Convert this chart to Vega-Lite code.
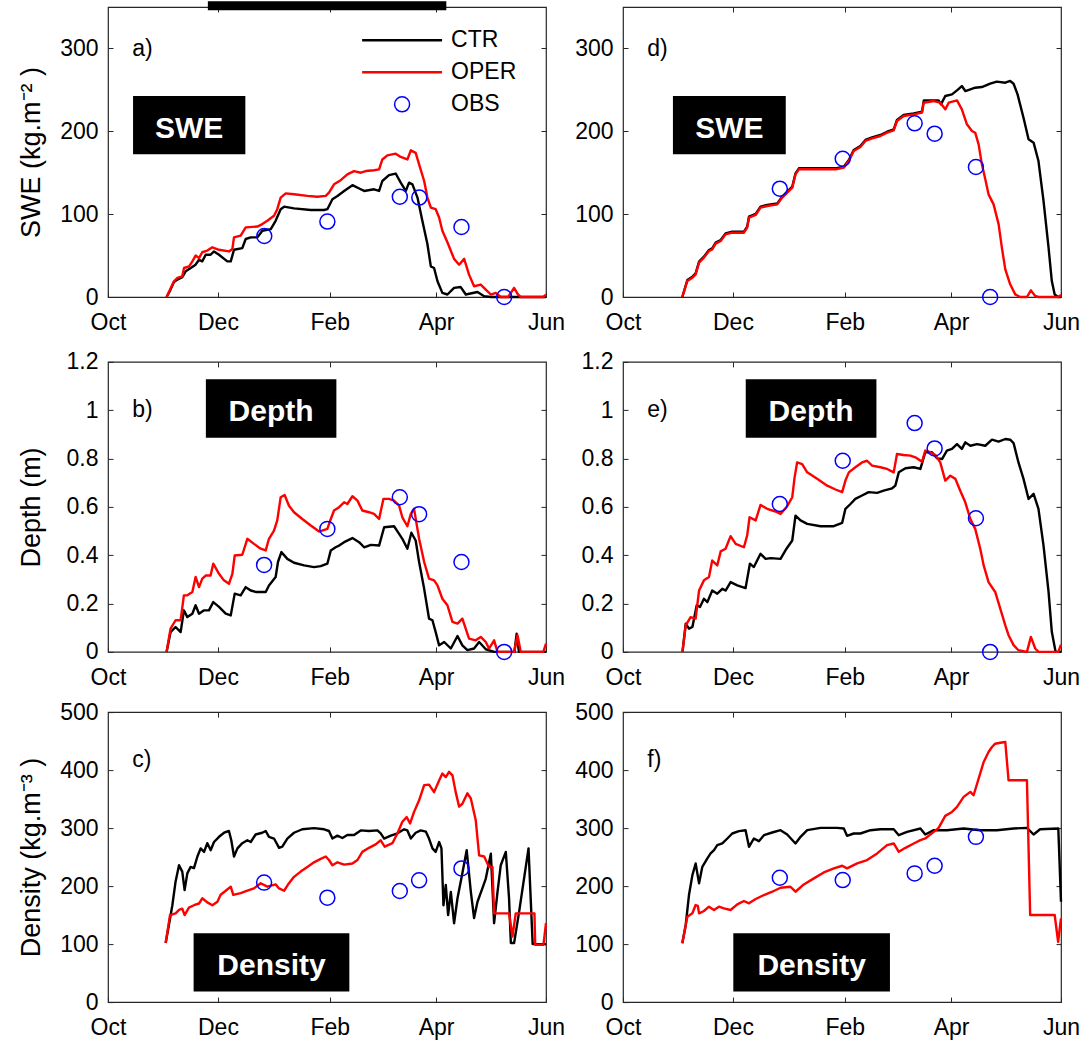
{
"$schema": "https://vega.github.io/schema/vega-lite/v6.json",
"padding": {"left": 17, "top": 0, "right": 0, "bottom": 0},
"datasets": {
"a": [
{"series":"CTR","day":32.5,"value":0},{"series":"CTR","day":34.5,"value":8},{"series":"CTR","day":36.6,"value":18},{"series":"CTR","day":38.5,"value":21},{"series":"CTR","day":41.2,"value":24},{"series":"CTR","day":43.1,"value":31},{"series":"CTR","day":45.9,"value":35},{"series":"CTR","day":48.6,"value":39},{"series":"CTR","day":50.5,"value":45},{"series":"CTR","day":52.3,"value":43},{"series":"CTR","day":54.2,"value":51},{"series":"CTR","day":56.9,"value":51},{"series":"CTR","day":58.8,"value":55},{"series":"CTR","day":61.6,"value":51},{"series":"CTR","day":66.2,"value":43},{"series":"CTR","day":68.1,"value":43},{"series":"CTR","day":69.9,"value":57},{"series":"CTR","day":74.5,"value":59},{"series":"CTR","day":76.4,"value":70},{"series":"CTR","day":79.2,"value":72},{"series":"CTR","day":82.9,"value":72},{"series":"CTR","day":85.6,"value":80},{"series":"CTR","day":90.3,"value":82},{"series":"CTR","day":93,"value":92},{"series":"CTR","day":95.8,"value":106},{"series":"CTR","day":97.7,"value":109},{"series":"CTR","day":103.2,"value":107},{"series":"CTR","day":112.5,"value":105},{"series":"CTR","day":119.9,"value":105},{"series":"CTR","day":121.7,"value":106},{"series":"CTR","day":124.5,"value":118},{"series":"CTR","day":127.3,"value":122},{"series":"CTR","day":131,"value":128},{"series":"CTR","day":135.6,"value":135},{"series":"CTR","day":140.2,"value":130},{"series":"CTR","day":142.1,"value":128},{"series":"CTR","day":147.6,"value":130},{"series":"CTR","day":150.4,"value":128},{"series":"CTR","day":152.2,"value":140},{"series":"CTR","day":155.9,"value":147},{"series":"CTR","day":159.6,"value":149},{"series":"CTR","day":162.4,"value":138},{"series":"CTR","day":165.2,"value":128},{"series":"CTR","day":167,"value":138},{"series":"CTR","day":168.9,"value":136},{"series":"CTR","day":171.7,"value":120},{"series":"CTR","day":174.4,"value":92},{"series":"CTR","day":177.2,"value":64},{"series":"CTR","day":179.1,"value":37},{"series":"CTR","day":180.9,"value":35},{"series":"CTR","day":182.8,"value":19},{"series":"CTR","day":185.5,"value":5},{"series":"CTR","day":188.3,"value":3},{"series":"CTR","day":192,"value":11},{"series":"CTR","day":195.7,"value":12},{"series":"CTR","day":198.5,"value":3},{"series":"CTR","day":205,"value":6},{"series":"CTR","day":208.7,"value":1},{"series":"CTR","day":212.4,"value":0},{"series":"CTR","day":243,"value":0},
{"series":"OPER","day":32.5,"value":0},{"series":"OPER","day":36.6,"value":19},{"series":"OPER","day":38.5,"value":23},{"series":"OPER","day":41.2,"value":25},{"series":"OPER","day":42.2,"value":35},{"series":"OPER","day":45,"value":37},{"series":"OPER","day":46.8,"value":43},{"series":"OPER","day":48.6,"value":50},{"series":"OPER","day":50.5,"value":47},{"series":"OPER","day":52.3,"value":54},{"series":"OPER","day":55.1,"value":56},{"series":"OPER","day":57.9,"value":60},{"series":"OPER","day":61.6,"value":57},{"series":"OPER","day":67.1,"value":55},{"series":"OPER","day":69,"value":58},{"series":"OPER","day":69.9,"value":72},{"series":"OPER","day":73.6,"value":74},{"series":"OPER","day":76.4,"value":84},{"series":"OPER","day":82.9,"value":85},{"series":"OPER","day":85.6,"value":88},{"series":"OPER","day":88.4,"value":92},{"series":"OPER","day":92.1,"value":98},{"series":"OPER","day":93.9,"value":106},{"series":"OPER","day":95.8,"value":120},{"series":"OPER","day":98.6,"value":125},{"series":"OPER","day":103.2,"value":124},{"series":"OPER","day":110.6,"value":122},{"series":"OPER","day":116.2,"value":121},{"series":"OPER","day":120.8,"value":122},{"series":"OPER","day":122.6,"value":126},{"series":"OPER","day":125.4,"value":136},{"series":"OPER","day":129.1,"value":141},{"series":"OPER","day":132.8,"value":148},{"series":"OPER","day":136.5,"value":152},{"series":"OPER","day":140.2,"value":150},{"series":"OPER","day":143,"value":152},{"series":"OPER","day":147.6,"value":153},{"series":"OPER","day":150.4,"value":154},{"series":"OPER","day":152.2,"value":166},{"series":"OPER","day":155,"value":171},{"series":"OPER","day":159.6,"value":173},{"series":"OPER","day":162.4,"value":169},{"series":"OPER","day":166.1,"value":166},{"series":"OPER","day":168,"value":177},{"series":"OPER","day":170.7,"value":174},{"series":"OPER","day":172.6,"value":160},{"series":"OPER","day":175.4,"value":140},{"series":"OPER","day":177.2,"value":120},{"series":"OPER","day":179.1,"value":108},{"series":"OPER","day":181.8,"value":106},{"series":"OPER","day":183.7,"value":96},{"series":"OPER","day":185.5,"value":80},{"series":"OPER","day":188.3,"value":66},{"series":"OPER","day":192,"value":46},{"series":"OPER","day":194.8,"value":39},{"series":"OPER","day":197.6,"value":46},{"series":"OPER","day":200.3,"value":27},{"series":"OPER","day":203.1,"value":13},{"series":"OPER","day":206.8,"value":15},{"series":"OPER","day":209.6,"value":9},{"series":"OPER","day":212.4,"value":3},{"series":"OPER","day":215.1,"value":5},{"series":"OPER","day":217.9,"value":0},{"series":"OPER","day":222,"value":0},{"series":"OPER","day":225.3,"value":11},{"series":"OPER","day":227.5,"value":3},{"series":"OPER","day":229,"value":0},{"series":"OPER","day":241.5,"value":0},{"series":"OPER","day":243,"value":3},
{"series":"OBS","day":86.7,"value":73.6},{"series":"OBS","day":121.7,"value":91},{"series":"OBS","day":161.9,"value":121},{"series":"OBS","day":172.7,"value":120},{"series":"OBS","day":196.1,"value":84.5},{"series":"OBS","day":219.8,"value":0}
],
"b": [
{"series":"CTR","day":32.5,"value":0},{"series":"CTR","day":34.7,"value":0.082},{"series":"CTR","day":37.5,"value":0.103},{"series":"CTR","day":40.3,"value":0.082},{"series":"CTR","day":42.1,"value":0.172},{"series":"CTR","day":44,"value":0.144},{"series":"CTR","day":46.8,"value":0.158},{"series":"CTR","day":48.6,"value":0.193},{"series":"CTR","day":50.5,"value":0.158},{"series":"CTR","day":53.3,"value":0.172},{"series":"CTR","day":56,"value":0.172},{"series":"CTR","day":58.4,"value":0.206},{"series":"CTR","day":61.6,"value":0.186},{"series":"CTR","day":65.3,"value":0.158},{"series":"CTR","day":68.1,"value":0.151},{"series":"CTR","day":70.3,"value":0.241},{"series":"CTR","day":73.6,"value":0.234},{"series":"CTR","day":76.4,"value":0.268},{"series":"CTR","day":79.2,"value":0.254},{"series":"CTR","day":81.9,"value":0.248},{"series":"CTR","day":87.5,"value":0.248},{"series":"CTR","day":89.3,"value":0.275},{"series":"CTR","day":93,"value":0.31},{"series":"CTR","day":94.3,"value":0.372},{"series":"CTR","day":96.2,"value":0.413},{"series":"CTR","day":99.5,"value":0.385},{"series":"CTR","day":103.2,"value":0.369},{"series":"CTR","day":108.8,"value":0.358},{"series":"CTR","day":114.3,"value":0.351},{"series":"CTR","day":118,"value":0.355},{"series":"CTR","day":121.7,"value":0.365},{"series":"CTR","day":123.6,"value":0.42},{"series":"CTR","day":126.3,"value":0.433},{"series":"CTR","day":128.2,"value":0.44},{"series":"CTR","day":131,"value":0.454},{"series":"CTR","day":135.6,"value":0.471},{"series":"CTR","day":139.3,"value":0.454},{"series":"CTR","day":142.1,"value":0.433},{"series":"CTR","day":145.8,"value":0.443},{"series":"CTR","day":150.4,"value":0.44},{"series":"CTR","day":153.2,"value":0.516},{"series":"CTR","day":158.7,"value":0.52},{"series":"CTR","day":161.5,"value":0.488},{"series":"CTR","day":163.3,"value":0.468},{"series":"CTR","day":166.1,"value":0.427},{"series":"CTR","day":168.3,"value":0.493},{"series":"CTR","day":170.7,"value":0.461},{"series":"CTR","day":172.6,"value":0.372},{"series":"CTR","day":175.4,"value":0.261},{"series":"CTR","day":178.1,"value":0.138},{"series":"CTR","day":180,"value":0.131},{"series":"CTR","day":181.8,"value":0.082},{"series":"CTR","day":183.7,"value":0.027},{"series":"CTR","day":186.5,"value":0.041},{"series":"CTR","day":190.2,"value":0.014},{"series":"CTR","day":193.9,"value":0.066},{"series":"CTR","day":196.6,"value":0.027},{"series":"CTR","day":199.4,"value":0.007},{"series":"CTR","day":203.1,"value":0.014},{"series":"CTR","day":205.9,"value":0.041},{"series":"CTR","day":209.6,"value":0.011},{"series":"CTR","day":214.2,"value":0},{"series":"CTR","day":225.5,"value":0},{"series":"CTR","day":226.7,"value":0.075},{"series":"CTR","day":228,"value":0},{"series":"CTR","day":243,"value":0},
{"series":"OPER","day":32.5,"value":0},{"series":"OPER","day":34.7,"value":0.096},{"series":"OPER","day":37.5,"value":0.131},{"series":"OPER","day":40.3,"value":0.131},{"series":"OPER","day":42.1,"value":0.234},{"series":"OPER","day":44,"value":0.234},{"series":"OPER","day":46.8,"value":0.248},{"series":"OPER","day":48.6,"value":0.31},{"series":"OPER","day":50.5,"value":0.268},{"series":"OPER","day":52.3,"value":0.303},{"series":"OPER","day":54.2,"value":0.316},{"series":"OPER","day":56.9,"value":0.316},{"series":"OPER","day":58.4,"value":0.365},{"series":"OPER","day":61.6,"value":0.323},{"series":"OPER","day":64.3,"value":0.296},{"series":"OPER","day":67.1,"value":0.282},{"series":"OPER","day":69,"value":0.323},{"series":"OPER","day":70.3,"value":0.399},{"series":"OPER","day":74.5,"value":0.402},{"series":"OPER","day":77.3,"value":0.468},{"series":"OPER","day":81,"value":0.447},{"series":"OPER","day":84.7,"value":0.427},{"series":"OPER","day":87.5,"value":0.42},{"series":"OPER","day":89.3,"value":0.468},{"series":"OPER","day":92.1,"value":0.502},{"series":"OPER","day":93.9,"value":0.544},{"series":"OPER","day":95.8,"value":0.64},{"series":"OPER","day":98,"value":0.649},{"series":"OPER","day":100.4,"value":0.605},{"series":"OPER","day":103.2,"value":0.578},{"series":"OPER","day":107.8,"value":0.55},{"series":"OPER","day":112.5,"value":0.523},{"series":"OPER","day":117.1,"value":0.498},{"series":"OPER","day":121.7,"value":0.509},{"series":"OPER","day":123.6,"value":0.55},{"series":"OPER","day":125.4,"value":0.585},{"series":"OPER","day":128.2,"value":0.599},{"series":"OPER","day":131,"value":0.619},{"series":"OPER","day":132.8,"value":0.612},{"series":"OPER","day":135.6,"value":0.644},{"series":"OPER","day":138.4,"value":0.626},{"series":"OPER","day":141.1,"value":0.585},{"series":"OPER","day":144.8,"value":0.578},{"series":"OPER","day":147.6,"value":0.571},{"series":"OPER","day":150.4,"value":0.55},{"series":"OPER","day":152.8,"value":0.633},{"series":"OPER","day":155.9,"value":0.633},{"series":"OPER","day":158.7,"value":0.626},{"series":"OPER","day":161.5,"value":0.605},{"series":"OPER","day":163.3,"value":0.557},{"series":"OPER","day":166.1,"value":0.52},{"series":"OPER","day":168,"value":0.571},{"series":"OPER","day":169.8,"value":0.592},{"series":"OPER","day":172.6,"value":0.468},{"series":"OPER","day":175.4,"value":0.372},{"series":"OPER","day":178.1,"value":0.303},{"series":"OPER","day":180.9,"value":0.296},{"series":"OPER","day":182.8,"value":0.275},{"series":"OPER","day":185.5,"value":0.22},{"series":"OPER","day":188.3,"value":0.193},{"series":"OPER","day":191.1,"value":0.124},{"series":"OPER","day":193.9,"value":0.117},{"series":"OPER","day":196.6,"value":0.138},{"series":"OPER","day":200.3,"value":0.055},{"series":"OPER","day":204,"value":0.048},{"series":"OPER","day":206.8,"value":0.062},{"series":"OPER","day":209.6,"value":0.041},{"series":"OPER","day":211.4,"value":0.014},{"series":"OPER","day":214.2,"value":0.048},{"series":"OPER","day":216.1,"value":0},{"series":"OPER","day":225.3,"value":0},{"series":"OPER","day":227.2,"value":0.069},{"series":"OPER","day":229,"value":0},{"series":"OPER","day":241.5,"value":0},{"series":"OPER","day":243,"value":0.034},
{"series":"OBS","day":86.6,"value":0.36},{"series":"OBS","day":121.7,"value":0.509},{"series":"OBS","day":161.9,"value":0.64},{"series":"OBS","day":172.6,"value":0.57},{"series":"OBS","day":196.1,"value":0.372},{"series":"OBS","day":219.8,"value":0}
],
"c": [
{"series":"CTR","day":32,"value":102},{"series":"CTR","day":33.8,"value":133},{"series":"CTR","day":35.7,"value":167},{"series":"CTR","day":37.5,"value":208},{"series":"CTR","day":39.4,"value":236},{"series":"CTR","day":41.2,"value":225},{"series":"CTR","day":42.5,"value":193},{"series":"CTR","day":44,"value":222},{"series":"CTR","day":45.8,"value":233},{"series":"CTR","day":47.7,"value":231},{"series":"CTR","day":49.6,"value":251},{"series":"CTR","day":51.4,"value":265},{"series":"CTR","day":53.3,"value":259},{"series":"CTR","day":55.1,"value":274},{"series":"CTR","day":57,"value":262},{"series":"CTR","day":58.8,"value":276},{"series":"CTR","day":61.6,"value":285},{"series":"CTR","day":64.4,"value":292},{"series":"CTR","day":67.1,"value":295},{"series":"CTR","day":68.4,"value":279},{"series":"CTR","day":69.9,"value":251},{"series":"CTR","day":71.8,"value":265},{"series":"CTR","day":74.5,"value":274},{"series":"CTR","day":77.3,"value":279},{"series":"CTR","day":79.2,"value":276},{"series":"CTR","day":81.9,"value":289},{"series":"CTR","day":85.6,"value":292},{"series":"CTR","day":87.5,"value":295},{"series":"CTR","day":89.3,"value":285},{"series":"CTR","day":92.1,"value":282},{"series":"CTR","day":94.9,"value":266},{"series":"CTR","day":96.7,"value":268},{"series":"CTR","day":99.5,"value":282},{"series":"CTR","day":103.2,"value":292},{"series":"CTR","day":107.8,"value":298},{"series":"CTR","day":114.3,"value":300},{"series":"CTR","day":119.9,"value":298},{"series":"CTR","day":122.6,"value":295},{"series":"CTR","day":124.5,"value":282},{"series":"CTR","day":127.3,"value":287},{"series":"CTR","day":130,"value":283},{"series":"CTR","day":132.8,"value":288},{"series":"CTR","day":136.5,"value":288},{"series":"CTR","day":140.2,"value":296},{"series":"CTR","day":144.8,"value":295},{"series":"CTR","day":149.5,"value":296},{"series":"CTR","day":151.3,"value":291},{"series":"CTR","day":153.2,"value":282},{"series":"CTR","day":156.9,"value":287},{"series":"CTR","day":160.6,"value":291},{"series":"CTR","day":164.3,"value":298},{"series":"CTR","day":166.1,"value":296},{"series":"CTR","day":168,"value":282},{"series":"CTR","day":170.7,"value":292},{"series":"CTR","day":173.5,"value":296},{"series":"CTR","day":176.3,"value":294},{"series":"CTR","day":178.1,"value":282},{"series":"CTR","day":180,"value":265},{"series":"CTR","day":181.8,"value":259},{"series":"CTR","day":183.7,"value":276},{"series":"CTR","day":185,"value":265},{"series":"CTR","day":186.1,"value":167},{"series":"CTR","day":187.4,"value":202},{"series":"CTR","day":188.7,"value":150},{"series":"CTR","day":190.2,"value":190},{"series":"CTR","day":192,"value":136},{"series":"CTR","day":193.9,"value":179},{"series":"CTR","day":196.6,"value":222},{"series":"CTR","day":199,"value":262},{"series":"CTR","day":201.3,"value":190},{"series":"CTR","day":203.1,"value":145},{"series":"CTR","day":205,"value":173},{"series":"CTR","day":207.7,"value":196},{"series":"CTR","day":209.6,"value":213},{"series":"CTR","day":212.4,"value":256},{"series":"CTR","day":214.2,"value":136},{"series":"CTR","day":216.1,"value":190},{"series":"CTR","day":217.9,"value":236},{"series":"CTR","day":220.7,"value":259},{"series":"CTR","day":222.5,"value":179},{"series":"CTR","day":223.5,"value":102},{"series":"CTR","day":225.3,"value":102},{"series":"CTR","day":228.1,"value":156},{"series":"CTR","day":233.3,"value":265},{"series":"CTR","day":235.6,"value":100},{"series":"CTR","day":243,"value":100},
{"series":"OPER","day":32,"value":102},{"series":"OPER","day":34.4,"value":150},{"series":"OPER","day":37.5,"value":153},{"series":"OPER","day":39.4,"value":159},{"series":"OPER","day":41.2,"value":161},{"series":"OPER","day":42.5,"value":150},{"series":"OPER","day":44.9,"value":163},{"series":"OPER","day":47.7,"value":167},{"series":"OPER","day":50.5,"value":170},{"series":"OPER","day":52.3,"value":179},{"series":"OPER","day":55.1,"value":172},{"series":"OPER","day":57.9,"value":167},{"series":"OPER","day":60.7,"value":173},{"series":"OPER","day":62.5,"value":185},{"series":"OPER","day":65.3,"value":192},{"series":"OPER","day":68.1,"value":199},{"series":"OPER","day":69.5,"value":185},{"series":"OPER","day":73.6,"value":188},{"series":"OPER","day":77.3,"value":192},{"series":"OPER","day":81,"value":196},{"series":"OPER","day":84.7,"value":205},{"series":"OPER","day":88.4,"value":199},{"series":"OPER","day":93,"value":203},{"series":"OPER","day":94.9,"value":196},{"series":"OPER","day":97.7,"value":192},{"series":"OPER","day":100.4,"value":205},{"series":"OPER","day":103.2,"value":216},{"series":"OPER","day":106.9,"value":225},{"series":"OPER","day":110.6,"value":233},{"series":"OPER","day":114.3,"value":241},{"series":"OPER","day":118,"value":247},{"series":"OPER","day":120.8,"value":251},{"series":"OPER","day":122.6,"value":245},{"series":"OPER","day":124.5,"value":236},{"series":"OPER","day":127.3,"value":241},{"series":"OPER","day":131,"value":237},{"series":"OPER","day":135.6,"value":239},{"series":"OPER","day":138.4,"value":245},{"series":"OPER","day":141.1,"value":259},{"series":"OPER","day":144.8,"value":266},{"series":"OPER","day":148.5,"value":272},{"series":"OPER","day":151.3,"value":279},{"series":"OPER","day":153.5,"value":268},{"series":"OPER","day":157.8,"value":274},{"series":"OPER","day":160.6,"value":291},{"series":"OPER","day":163.3,"value":311},{"series":"OPER","day":165.7,"value":319},{"series":"OPER","day":167.6,"value":308},{"series":"OPER","day":169.8,"value":328},{"series":"OPER","day":172.6,"value":348},{"series":"OPER","day":175.4,"value":374},{"series":"OPER","day":178.1,"value":375},{"series":"OPER","day":180.9,"value":362},{"series":"OPER","day":183.7,"value":382},{"series":"OPER","day":185.5,"value":394},{"series":"OPER","day":187.4,"value":388},{"series":"OPER","day":189.2,"value":397},{"series":"OPER","day":191.1,"value":391},{"series":"OPER","day":192.9,"value":362},{"series":"OPER","day":194.8,"value":337},{"series":"OPER","day":196.6,"value":342},{"series":"OPER","day":199.4,"value":360},{"series":"OPER","day":201.3,"value":351},{"series":"OPER","day":204,"value":314},{"series":"OPER","day":205.9,"value":253},{"series":"OPER","day":208.7,"value":251},{"series":"OPER","day":211.4,"value":233},{"series":"OPER","day":213.3,"value":233},{"series":"OPER","day":214.2,"value":153},{"series":"OPER","day":222.5,"value":153},{"series":"OPER","day":224.4,"value":113},{"series":"OPER","day":226.2,"value":153},{"series":"OPER","day":236.6,"value":153},{"series":"OPER","day":237,"value":99},{"series":"OPER","day":241.6,"value":99},{"series":"OPER","day":243,"value":136},
{"series":"OBS","day":86.6,"value":206},{"series":"OBS","day":121.7,"value":180},{"series":"OBS","day":161.9,"value":191.5},{"series":"OBS","day":172.6,"value":210},{"series":"OBS","day":196.1,"value":230.5}
],
"d": [
{"series":"CTR","day":32.9,"value":0},{"series":"CTR","day":35.7,"value":20.5},{"series":"CTR","day":38.5,"value":24.5},{"series":"CTR","day":40.3,"value":28.6},{"series":"CTR","day":42.2,"value":42.6},{"series":"CTR","day":44.9,"value":48.7},{"series":"CTR","day":47.7,"value":56.7},{"series":"CTR","day":49.5,"value":58.7},{"series":"CTR","day":51.4,"value":65.6},{"series":"CTR","day":54.2,"value":68.8},{"series":"CTR","day":56.9,"value":76.8},{"series":"CTR","day":60.6,"value":78.8},{"series":"CTR","day":67.1,"value":78.8},{"series":"CTR","day":68.9,"value":84.9},{"series":"CTR","day":69.9,"value":96.9},{"series":"CTR","day":73.6,"value":100.2},{"series":"CTR","day":76.3,"value":109},{"series":"CTR","day":80,"value":111},{"series":"CTR","day":85.6,"value":113},{"series":"CTR","day":88.3,"value":121.1},{"series":"CTR","day":91.1,"value":127.1},{"series":"CTR","day":93.9,"value":133.1},{"series":"CTR","day":95.7,"value":149.2},{"series":"CTR","day":97.6,"value":155.3},{"series":"CTR","day":117.9,"value":155.3},{"series":"CTR","day":122.5,"value":157.3},{"series":"CTR","day":125.3,"value":165.3},{"series":"CTR","day":128,"value":177.4},{"series":"CTR","day":131.7,"value":182.2},{"series":"CTR","day":134.5,"value":189.5},{"series":"CTR","day":138.2,"value":192.7},{"series":"CTR","day":142.8,"value":195.5},{"series":"CTR","day":146.5,"value":199.5},{"series":"CTR","day":150.2,"value":202.3},{"series":"CTR","day":152,"value":213.6},{"series":"CTR","day":155.7,"value":219.6},{"series":"CTR","day":161.3,"value":221.6},{"series":"CTR","day":165.9,"value":223.7},{"series":"CTR","day":166.9,"value":237.3},{"series":"CTR","day":175.1,"value":237.3},{"series":"CTR","day":176.4,"value":232.5},{"series":"CTR","day":178.8,"value":242.6},{"series":"CTR","day":182.5,"value":244.6},{"series":"CTR","day":185.3,"value":249.4},{"series":"CTR","day":188,"value":254.6},{"series":"CTR","day":189.9,"value":248.6},{"series":"CTR","day":192.7,"value":250.6},{"series":"CTR","day":195.4,"value":252.6},{"series":"CTR","day":199.1,"value":253.4},{"series":"CTR","day":203.7,"value":257.4},{"series":"CTR","day":207.4,"value":259.9},{"series":"CTR","day":212.1,"value":258.6},{"series":"CTR","day":214.8,"value":260.7},{"series":"CTR","day":216.7,"value":257.4},{"series":"CTR","day":218.9,"value":244.6},{"series":"CTR","day":222.2,"value":216.4},{"series":"CTR","day":225,"value":190.3},{"series":"CTR","day":227.8,"value":186.3},{"series":"CTR","day":230.5,"value":164.1},{"series":"CTR","day":233.3,"value":115.9},{"series":"CTR","day":236.1,"value":59.5},{"series":"CTR","day":237.9,"value":19.3},{"series":"CTR","day":239.5,"value":3},{"series":"CTR","day":241.4,"value":0},{"series":"CTR","day":243,"value":0},
{"series":"OPER","day":32.9,"value":0},{"series":"OPER","day":35.7,"value":19.3},{"series":"OPER","day":38.5,"value":23.3},{"series":"OPER","day":40.3,"value":27.4},{"series":"OPER","day":42.2,"value":41.4},{"series":"OPER","day":44.9,"value":47.5},{"series":"OPER","day":47.7,"value":55.5},{"series":"OPER","day":49.5,"value":57.5},{"series":"OPER","day":51.4,"value":64.4},{"series":"OPER","day":54.2,"value":67.6},{"series":"OPER","day":56.9,"value":75.6},{"series":"OPER","day":60.6,"value":77.6},{"series":"OPER","day":67.1,"value":77.6},{"series":"OPER","day":68.9,"value":83.7},{"series":"OPER","day":69.9,"value":95.7},{"series":"OPER","day":73.6,"value":99},{"series":"OPER","day":76.3,"value":107.8},{"series":"OPER","day":80,"value":109.8},{"series":"OPER","day":85.6,"value":111.8},{"series":"OPER","day":88.3,"value":119.9},{"series":"OPER","day":91.1,"value":125.9},{"series":"OPER","day":93.9,"value":131.9},{"series":"OPER","day":95.7,"value":148},{"series":"OPER","day":97.6,"value":154.1},{"series":"OPER","day":117.9,"value":154.1},{"series":"OPER","day":122.5,"value":156.1},{"series":"OPER","day":125.3,"value":164.1},{"series":"OPER","day":128,"value":176.2},{"series":"OPER","day":131.7,"value":181},{"series":"OPER","day":134.5,"value":188.3},{"series":"OPER","day":138.2,"value":191.5},{"series":"OPER","day":142.8,"value":194.3},{"series":"OPER","day":146.5,"value":198.3},{"series":"OPER","day":150.2,"value":201.1},{"series":"OPER","day":152,"value":212.4},{"series":"OPER","day":155.7,"value":218.4},{"series":"OPER","day":161.3,"value":220.4},{"series":"OPER","day":165.9,"value":222.5},{"series":"OPER","day":166.8,"value":234.5},{"series":"OPER","day":172.4,"value":236.5},{"series":"OPER","day":176,"value":234.5},{"series":"OPER","day":178.8,"value":226.5},{"series":"OPER","day":180.7,"value":234.5},{"series":"OPER","day":185.3,"value":237.3},{"series":"OPER","day":188,"value":226.5},{"series":"OPER","day":190.8,"value":208.4},{"series":"OPER","day":193.6,"value":200.3},{"series":"OPER","day":195.4,"value":198.3},{"series":"OPER","day":197.3,"value":184.2},{"series":"OPER","day":199.1,"value":160.1},{"series":"OPER","day":201,"value":142},{"series":"OPER","day":202.8,"value":123.9},{"series":"OPER","day":205.6,"value":111.8},{"series":"OPER","day":208.4,"value":87.7},{"series":"OPER","day":210.2,"value":59.5},{"series":"OPER","day":212.1,"value":33.4},{"series":"OPER","day":214.8,"value":15.3},{"series":"OPER","day":217.6,"value":3.2},{"series":"OPER","day":220.4,"value":0},{"series":"OPER","day":224.1,"value":0},{"series":"OPER","day":226.3,"value":8},{"series":"OPER","day":228.7,"value":1.2},{"series":"OPER","day":230.5,"value":0},{"series":"OPER","day":241.5,"value":0},{"series":"OPER","day":243,"value":2.5},
{"series":"OBS","day":87,"value":130.7},{"series":"OBS","day":121.9,"value":166.9},{"series":"OBS","day":161.8,"value":209.6},{"series":"OBS","day":172.9,"value":197.1},{"series":"OBS","day":195.8,"value":156.9},{"series":"OBS","day":203.7,"value":0}
],
"e": [
{"series":"CTR","day":33,"value":0},{"series":"CTR","day":34.8,"value":0.117},{"series":"CTR","day":36.6,"value":0.096},{"series":"CTR","day":38.5,"value":0.103},{"series":"CTR","day":40.9,"value":0.193},{"series":"CTR","day":42.7,"value":0.186},{"series":"CTR","day":44.9,"value":0.22},{"series":"CTR","day":46.8,"value":0.206},{"series":"CTR","day":49.5,"value":0.254},{"series":"CTR","day":52.3,"value":0.241},{"series":"CTR","day":55.1,"value":0.261},{"series":"CTR","day":56.9,"value":0.254},{"series":"CTR","day":59.7,"value":0.289},{"series":"CTR","day":63.4,"value":0.275},{"series":"CTR","day":68,"value":0.264},{"series":"CTR","day":70.4,"value":0.365},{"series":"CTR","day":72.6,"value":0.351},{"series":"CTR","day":76.3,"value":0.406},{"series":"CTR","day":79.1,"value":0.385},{"series":"CTR","day":81.9,"value":0.388},{"series":"CTR","day":87.4,"value":0.385},{"series":"CTR","day":90.7,"value":0.427},{"series":"CTR","day":93.9,"value":0.461},{"series":"CTR","day":95.7,"value":0.564},{"series":"CTR","day":98.5,"value":0.544},{"series":"CTR","day":102.2,"value":0.53},{"series":"CTR","day":109.6,"value":0.52},{"series":"CTR","day":116.9,"value":0.52},{"series":"CTR","day":121.6,"value":0.534},{"series":"CTR","day":123.4,"value":0.592},{"series":"CTR","day":126.2,"value":0.612},{"series":"CTR","day":128.9,"value":0.633},{"series":"CTR","day":132.6,"value":0.647},{"series":"CTR","day":136.3,"value":0.661},{"series":"CTR","day":141,"value":0.658},{"series":"CTR","day":144.6,"value":0.667},{"series":"CTR","day":149.3,"value":0.677},{"series":"CTR","day":151.1,"value":0.688},{"series":"CTR","day":153,"value":0.743},{"series":"CTR","day":156.7,"value":0.76},{"series":"CTR","day":161.3,"value":0.764},{"series":"CTR","day":165,"value":0.757},{"series":"CTR","day":167.7,"value":0.826},{"series":"CTR","day":171.4,"value":0.826},{"series":"CTR","day":174.2,"value":0.801},{"series":"CTR","day":177,"value":0.798},{"series":"CTR","day":179.7,"value":0.833},{"series":"CTR","day":182.5,"value":0.84},{"series":"CTR","day":185.3,"value":0.86},{"series":"CTR","day":188,"value":0.84},{"series":"CTR","day":189.9,"value":0.867},{"series":"CTR","day":192.7,"value":0.853},{"series":"CTR","day":196.4,"value":0.86},{"series":"CTR","day":201,"value":0.853},{"series":"CTR","day":204.7,"value":0.878},{"series":"CTR","day":208.4,"value":0.87},{"series":"CTR","day":212.1,"value":0.881},{"series":"CTR","day":214.8,"value":0.878},{"series":"CTR","day":216.7,"value":0.864},{"series":"CTR","day":219.4,"value":0.784},{"series":"CTR","day":222.2,"value":0.716},{"series":"CTR","day":225,"value":0.633},{"series":"CTR","day":227.8,"value":0.654},{"series":"CTR","day":230.5,"value":0.592},{"series":"CTR","day":233.3,"value":0.44},{"series":"CTR","day":236.1,"value":0.248},{"series":"CTR","day":237.9,"value":0.083},{"series":"CTR","day":240,"value":0},{"series":"CTR","day":243,"value":0},
{"series":"OPER","day":33,"value":0},{"series":"OPER","day":34.8,"value":0.11},{"series":"OPER","day":37.5,"value":0.144},{"series":"OPER","day":40.3,"value":0.138},{"series":"OPER","day":42.2,"value":0.254},{"series":"OPER","day":44.9,"value":0.296},{"series":"OPER","day":47.7,"value":0.31},{"series":"OPER","day":49.5,"value":0.378},{"series":"OPER","day":52.3,"value":0.358},{"series":"OPER","day":54.2,"value":0.416},{"series":"OPER","day":56.9,"value":0.427},{"series":"OPER","day":59.7,"value":0.479},{"series":"OPER","day":62.5,"value":0.447},{"series":"OPER","day":67.1,"value":0.433},{"series":"OPER","day":68.9,"value":0.482},{"series":"OPER","day":70.2,"value":0.557},{"series":"OPER","day":73.6,"value":0.544},{"series":"OPER","day":76.3,"value":0.608},{"series":"OPER","day":80,"value":0.592},{"series":"OPER","day":84.6,"value":0.581},{"series":"OPER","day":87.4,"value":0.571},{"series":"OPER","day":91.1,"value":0.603},{"series":"OPER","day":93.9,"value":0.64},{"series":"OPER","day":95.2,"value":0.722},{"series":"OPER","day":96.6,"value":0.784},{"series":"OPER","day":99.4,"value":0.777},{"series":"OPER","day":102.2,"value":0.743},{"series":"OPER","day":107.7,"value":0.716},{"series":"OPER","day":113.3,"value":0.688},{"series":"OPER","day":117.9,"value":0.672},{"series":"OPER","day":121.6,"value":0.661},{"series":"OPER","day":123.4,"value":0.709},{"series":"OPER","day":125.3,"value":0.743},{"series":"OPER","day":128.9,"value":0.764},{"series":"OPER","day":132.6,"value":0.784},{"series":"OPER","day":135.4,"value":0.791},{"series":"OPER","day":138.2,"value":0.771},{"series":"OPER","day":142.8,"value":0.764},{"series":"OPER","day":146.5,"value":0.757},{"series":"OPER","day":150.2,"value":0.743},{"series":"OPER","day":152,"value":0.819},{"series":"OPER","day":155.7,"value":0.815},{"series":"OPER","day":159.4,"value":0.812},{"series":"OPER","day":162.2,"value":0.805},{"series":"OPER","day":165.9,"value":0.787},{"series":"OPER","day":167.7,"value":0.833},{"series":"OPER","day":170.1,"value":0.828},{"series":"OPER","day":173.3,"value":0.815},{"series":"OPER","day":176,"value":0.784},{"series":"OPER","day":178.8,"value":0.709},{"series":"OPER","day":181.6,"value":0.729},{"series":"OPER","day":184.4,"value":0.716},{"series":"OPER","day":187.1,"value":0.667},{"series":"OPER","day":189.9,"value":0.619},{"series":"OPER","day":192.7,"value":0.55},{"series":"OPER","day":195.4,"value":0.509},{"series":"OPER","day":198.2,"value":0.427},{"series":"OPER","day":200.1,"value":0.358},{"series":"OPER","day":202.8,"value":0.289},{"series":"OPER","day":206.5,"value":0.248},{"series":"OPER","day":209.3,"value":0.179},{"series":"OPER","day":212.1,"value":0.11},{"series":"OPER","day":213.9,"value":0.069},{"series":"OPER","day":216.7,"value":0.028},{"series":"OPER","day":219.4,"value":0.007},{"series":"OPER","day":224.1,"value":0},{"series":"OPER","day":226.3,"value":0.062},{"series":"OPER","day":228.7,"value":0.014},{"series":"OPER","day":230.5,"value":0},{"series":"OPER","day":241.5,"value":0},{"series":"OPER","day":243,"value":0.03},
{"series":"OBS","day":87,"value":0.612},{"series":"OBS","day":121.9,"value":0.791},{"series":"OBS","day":161.8,"value":0.947},{"series":"OBS","day":172.9,"value":0.842},{"series":"OBS","day":195.8,"value":0.553},{"series":"OBS","day":203.7,"value":0}
],
"f": [
{"series":"CTR","day":32.9,"value":101.5},{"series":"CTR","day":34.8,"value":133},{"series":"CTR","day":36.6,"value":184.6},{"series":"CTR","day":38.5,"value":219},{"series":"CTR","day":40.3,"value":239},{"series":"CTR","day":42.2,"value":204.7},{"series":"CTR","day":44,"value":233.3},{"series":"CTR","day":46.8,"value":247.7},{"series":"CTR","day":48.6,"value":256.3},{"series":"CTR","day":50.5,"value":262},{"series":"CTR","day":52.3,"value":270.6},{"series":"CTR","day":55.1,"value":273.5},{"series":"CTR","day":57.9,"value":282.1},{"series":"CTR","day":60.6,"value":290.7},{"series":"CTR","day":64.3,"value":294.7},{"series":"CTR","day":68,"value":296.4},{"series":"CTR","day":69.9,"value":267.7},{"series":"CTR","day":72.6,"value":282.1},{"series":"CTR","day":75.4,"value":277.5},{"series":"CTR","day":78.2,"value":287.8},{"series":"CTR","day":82.8,"value":292.4},{"series":"CTR","day":87.4,"value":296.4},{"series":"CTR","day":91.1,"value":289},{"series":"CTR","day":95.7,"value":273.5},{"series":"CTR","day":98.5,"value":285},{"series":"CTR","day":102.2,"value":296.4},{"series":"CTR","day":109.6,"value":300.4},{"series":"CTR","day":118.8,"value":300.4},{"series":"CTR","day":122.5,"value":299.3},{"series":"CTR","day":124.3,"value":286.7},{"series":"CTR","day":128,"value":290.7},{"series":"CTR","day":131.7,"value":290.7},{"series":"CTR","day":137.3,"value":296.4},{"series":"CTR","day":142.8,"value":298.1},{"series":"CTR","day":150.2,"value":298.1},{"series":"CTR","day":153,"value":287.8},{"series":"CTR","day":157.6,"value":293.5},{"series":"CTR","day":165,"value":299.3},{"series":"CTR","day":167.7,"value":289},{"series":"CTR","day":172.4,"value":296.4},{"series":"CTR","day":179.7,"value":296.4},{"series":"CTR","day":189,"value":299.3},{"series":"CTR","day":198.2,"value":296.4},{"series":"CTR","day":207.4,"value":296.4},{"series":"CTR","day":216.7,"value":299.3},{"series":"CTR","day":224.1,"value":300.4},{"series":"CTR","day":227.8,"value":289},{"series":"CTR","day":231.4,"value":298.1},{"series":"CTR","day":241.5,"value":299.3},{"series":"CTR","day":243,"value":173},
{"series":"OPER","day":32.9,"value":101.5},{"series":"OPER","day":35.7,"value":147.3},{"series":"OPER","day":38.5,"value":153.1},{"series":"OPER","day":40.3,"value":167.4},{"series":"OPER","day":41.5,"value":166},{"series":"OPER","day":42.2,"value":153.1},{"series":"OPER","day":44.9,"value":157.1},{"series":"OPER","day":47.7,"value":164.5},{"series":"OPER","day":50.5,"value":158.8},{"series":"OPER","day":53.2,"value":164.5},{"series":"OPER","day":56,"value":161.7},{"series":"OPER","day":59.7,"value":158.8},{"series":"OPER","day":63.4,"value":168.5},{"series":"OPER","day":67.1,"value":174.3},{"series":"OPER","day":69.9,"value":170.3},{"series":"OPER","day":73.6,"value":177.7},{"series":"OPER","day":78.2,"value":184.6},{"series":"OPER","day":82.8,"value":190.3},{"series":"OPER","day":87.4,"value":197.2},{"series":"OPER","day":92.9,"value":198.9},{"series":"OPER","day":95.7,"value":190.3},{"series":"OPER","day":100.3,"value":202.9},{"series":"OPER","day":105.9,"value":213.3},{"series":"OPER","day":111.4,"value":223.6},{"series":"OPER","day":117,"value":230.5},{"series":"OPER","day":121.6,"value":235.1},{"series":"OPER","day":124.3,"value":230.5},{"series":"OPER","day":129.9,"value":239.1},{"series":"OPER","day":135.4,"value":244.8},{"series":"OPER","day":141,"value":256.3},{"series":"OPER","day":146.5,"value":270.6},{"series":"OPER","day":150.2,"value":273.5},{"series":"OPER","day":153,"value":259.2},{"series":"OPER","day":156.7,"value":266},{"series":"OPER","day":161.3,"value":273.5},{"series":"OPER","day":165,"value":279.2},{"series":"OPER","day":167.7,"value":282.1},{"series":"OPER","day":172.4,"value":293.5},{"series":"OPER","day":175.1,"value":300.4},{"series":"OPER","day":178.8,"value":321.1},{"series":"OPER","day":182.5,"value":327.9},{"series":"OPER","day":185.3,"value":336.6},{"series":"OPER","day":189,"value":353.8},{"series":"OPER","day":192.7,"value":362.4},{"series":"OPER","day":194.5,"value":356.6},{"series":"OPER","day":197.3,"value":385.3},{"series":"OPER","day":200.1,"value":414},{"series":"OPER","day":202.8,"value":431.2},{"series":"OPER","day":204.7,"value":439.8},{"series":"OPER","day":206.5,"value":445.5},{"series":"OPER","day":209.3,"value":447.2},{"series":"OPER","day":212.1,"value":448.4},{"series":"OPER","day":213.9,"value":382.4},{"series":"OPER","day":224.1,"value":382.4},{"series":"OPER","day":225.9,"value":150.2},{"series":"OPER","day":239.5,"value":150.2},{"series":"OPER","day":241.4,"value":104},{"series":"OPER","day":243,"value":144.5},
{"series":"OBS","day":87,"value":214.4},{"series":"OBS","day":121.9,"value":210.4},{"series":"OBS","day":161.8,"value":221.9},{"series":"OBS","day":172.9,"value":235.1},{"series":"OBS","day":195.8,"value":284.9}
],
"boxes": [
{"panel":"a","label":"SWE","d0":13.9,"d1":76.2,"v0":172.2,"v1":242.6,"dc":45.05,"vc":203.2},
{"panel":"a","label":"","d0":55.4,"d1":187.7,"v0":346,"v1":357,"dc":121.5,"vc":351},
{"panel":"d","label":"SWE","d0":27.7,"d1":90.3,"v0":172.2,"v1":242.6,"dc":59,"vc":203.2},
{"panel":"b","label":"Depth","d0":54.3,"d1":126.7,"v0":0.886,"v1":1.128,"dc":90.5,"vc":0.994},
{"panel":"e","label":"Depth","d0":68.1,"d1":140.6,"v0":0.886,"v1":1.128,"dc":104.35,"vc":0.994},
{"panel":"c","label":"Density","d0":47.5,"d1":133.9,"v0":18.4,"v1":118.7,"dc":90.7,"vc":62.6},
{"panel":"f","label":"Density","d0":61.2,"d1":148.1,"v0":18.4,"v1":118.7,"dc":104.65,"vc":62.6}
],
"letters": [
{"panel":"a","text":"a)","day":13.5,"value":299},
{"panel":"b","text":"b)","day":13.5,"value":1.0},
{"panel":"c","text":"c)","day":13.5,"value":418},
{"panel":"d","text":"d)","day":13.5,"value":299},
{"panel":"e","text":"e)","day":13.5,"value":1.0},
{"panel":"f","text":"f)","day":13.5,"value":418}
]
},
"resolve": {"scale": {"color": "independent"}},
"spacing": 13.9,
"bounds": "full",
"vconcat": [
{"hconcat": [
{"width": 438, "height": 290,
 "layer": [
  {"data":{"name":"a"},"transform":[{"filter":"datum.series == 'CTR'"}],"mark":{"type":"line","strokeWidth":2.4,"strokeJoin":"round"},
   "encoding":{"x":{"field":"day","type":"quantitative","scale":{"domain":[0,243],"nice":false,"zero":false},"axis":{"values":[0,61,123,182,243],"labelExpr":"datum.value == 0 ? 'Oct' : datum.value == 61 ? 'Dec' : datum.value == 123 ? 'Feb' : datum.value == 182 ? 'Apr' : 'Jun'","title":null}},
   "y":{"field":"value","type":"quantitative","scale":{"domain":[0,350],"nice":false,"zero":false},"axis":{"values":[0,100,200,300],"format":"~r","title":"SWE (kg.m⁻² )","titleX":-62.4}},
   "color":{"field":"series","type":"nominal","scale":{"domain":["CTR","OPER","OBS"],"range":["#000000","#ff0000","#0000ff"]},
     "legend":{"title":null,"orient":"none","legendX":282.6,"legendY":21.8,"padding":0,"symbolSize":225,"labelFont":"Liberation Sans","labelFontSize":23,"labelColor":"#000000","labelOffset":37.5,"rowPadding":8,
       "encode":{"symbols":{"update":{"shape":{"signal":"datum.value === 'OBS' ? 'circle' : 'M-5.33,0H5.33'"},"stroke":{"signal":"datum.value === 'CTR' ? '#000000' : datum.value === 'OPER' ? '#ff0000' : '#0000ff'"},"strokeWidth":{"signal":"datum.value === 'OBS' ? 1.5 : 2.4"},"fill":{"value":"transparent"},"opacity":{"value":1}}}}}}}},
  {"data":{"name":"a"},"transform":[{"filter":"datum.series == 'OPER'"}],"mark":{"type":"line","strokeWidth":2.4,"strokeJoin":"round"},
   "encoding":{"x":{"field":"day","type":"quantitative","scale":{"domain":[0,243],"nice":false,"zero":false},"axis":null},"y":{"field":"value","type":"quantitative","scale":{"domain":[0,350],"nice":false,"zero":false},"axis":null},
   "color":{"field":"series","type":"nominal","scale":{"domain":["CTR","OPER","OBS"],"range":["#000000","#ff0000","#0000ff"]},"legend":null}}},
  {"data":{"name":"a"},"transform":[{"filter":"datum.series == 'OBS'"}],"mark":{"type":"point","shape":"circle","filled":false,"size":225,"strokeWidth":1.5,"opacity":1},
   "encoding":{"x":{"field":"day","type":"quantitative","scale":{"domain":[0,243],"nice":false,"zero":false},"axis":null},"y":{"field":"value","type":"quantitative","scale":{"domain":[0,350],"nice":false,"zero":false},"axis":null},
   "color":{"field":"series","type":"nominal","scale":{"domain":["CTR","OPER","OBS"],"range":["#000000","#ff0000","#0000ff"]},"legend":null}}},
  {"data":{"name":"boxes"},"transform":[{"filter":"datum.panel == 'a'"}],"mark":{"type":"rect","color":"#000000"},
   "encoding":{"x":{"field":"d0","type":"quantitative","scale":{"domain":[0,243],"nice":false,"zero":false},"axis":null},"x2":{"field":"d1"},"y":{"field":"v0","type":"quantitative","scale":{"domain":[0,350],"nice":false,"zero":false},"axis":null},"y2":{"field":"v1"}}},
  {"data":{"name":"boxes"},"transform":[{"filter":"datum.panel == 'a' && datum.label != ''"}],"mark":{"type":"text","color":"#ffffff","font":"Liberation Sans","fontWeight":"bold","fontSize":30,"align":"center","baseline":"middle"},
   "encoding":{"x":{"field":"dc","type":"quantitative","scale":{"domain":[0,243],"nice":false,"zero":false},"axis":null},"y":{"field":"vc","type":"quantitative","scale":{"domain":[0,350],"nice":false,"zero":false},"axis":null},"text":{"field":"label"}}},
  {"data":{"name":"letters"},"transform":[{"filter":"datum.panel == 'a'"}],"mark":{"type":"text","color":"#000000","font":"Liberation Sans","fontSize":23,"align":"left","baseline":"middle"},
   "encoding":{"x":{"field":"day","type":"quantitative","scale":{"domain":[0,243],"nice":false,"zero":false},"axis":{"orient":"top","values":[61,123,182],"labels":false,"title":null}},"y":{"field":"value","type":"quantitative","scale":{"domain":[0,350],"nice":false,"zero":false},"axis":{"orient":"right","values":[100,200,300],"labels":false,"title":null}},"text":{"field":"text"}}}
 ],
 "resolve":{"axis":{"x":"independent","y":"independent"}}},
{"width": 438, "height": 290,
 "layer": [
  {"data":{"name":"d"},"transform":[{"filter":"datum.series == 'CTR'"}],"mark":{"type":"line","strokeWidth":2.4,"strokeJoin":"round"},
   "encoding":{"x":{"field":"day","type":"quantitative","scale":{"domain":[0,243],"nice":false,"zero":false},"axis":{"values":[0,61,123,182,243],"labelExpr":"datum.value == 0 ? 'Oct' : datum.value == 61 ? 'Dec' : datum.value == 123 ? 'Feb' : datum.value == 182 ? 'Apr' : 'Jun'","title":null}},
   "y":{"field":"value","type":"quantitative","scale":{"domain":[0,350],"nice":false,"zero":false},"axis":{"values":[0,100,200,300],"format":"~r","title":null}},
   "color":{"field":"series","type":"nominal","scale":{"domain":["CTR","OPER","OBS"],"range":["#000000","#ff0000","#0000ff"]},"legend":null}}},
  {"data":{"name":"d"},"transform":[{"filter":"datum.series == 'OPER'"}],"mark":{"type":"line","strokeWidth":2.4,"strokeJoin":"round"},
   "encoding":{"x":{"field":"day","type":"quantitative","scale":{"domain":[0,243],"nice":false,"zero":false},"axis":null},"y":{"field":"value","type":"quantitative","scale":{"domain":[0,350],"nice":false,"zero":false},"axis":null},
   "color":{"field":"series","type":"nominal","scale":{"domain":["CTR","OPER","OBS"],"range":["#000000","#ff0000","#0000ff"]},"legend":null}}},
  {"data":{"name":"d"},"transform":[{"filter":"datum.series == 'OBS'"}],"mark":{"type":"point","shape":"circle","filled":false,"size":225,"strokeWidth":1.5,"opacity":1},
   "encoding":{"x":{"field":"day","type":"quantitative","scale":{"domain":[0,243],"nice":false,"zero":false},"axis":null},"y":{"field":"value","type":"quantitative","scale":{"domain":[0,350],"nice":false,"zero":false},"axis":null},
   "color":{"field":"series","type":"nominal","scale":{"domain":["CTR","OPER","OBS"],"range":["#000000","#ff0000","#0000ff"]},"legend":null}}},
  {"data":{"name":"boxes"},"transform":[{"filter":"datum.panel == 'd'"}],"mark":{"type":"rect","color":"#000000"},
   "encoding":{"x":{"field":"d0","type":"quantitative","scale":{"domain":[0,243],"nice":false,"zero":false},"axis":null},"x2":{"field":"d1"},"y":{"field":"v0","type":"quantitative","scale":{"domain":[0,350],"nice":false,"zero":false},"axis":null},"y2":{"field":"v1"}}},
  {"data":{"name":"boxes"},"transform":[{"filter":"datum.panel == 'd' && datum.label != ''"}],"mark":{"type":"text","color":"#ffffff","font":"Liberation Sans","fontWeight":"bold","fontSize":30,"align":"center","baseline":"middle"},
   "encoding":{"x":{"field":"dc","type":"quantitative","scale":{"domain":[0,243],"nice":false,"zero":false},"axis":null},"y":{"field":"vc","type":"quantitative","scale":{"domain":[0,350],"nice":false,"zero":false},"axis":null},"text":{"field":"label"}}},
  {"data":{"name":"letters"},"transform":[{"filter":"datum.panel == 'd'"}],"mark":{"type":"text","color":"#000000","font":"Liberation Sans","fontSize":23,"align":"left","baseline":"middle"},
   "encoding":{"x":{"field":"day","type":"quantitative","scale":{"domain":[0,243],"nice":false,"zero":false},"axis":{"orient":"top","values":[61,123,182],"labels":false,"title":null}},"y":{"field":"value","type":"quantitative","scale":{"domain":[0,350],"nice":false,"zero":false},"axis":{"orient":"right","values":[100,200,300],"labels":false,"title":null}},"text":{"field":"text"}}}
 ],
 "resolve":{"axis":{"x":"independent","y":"independent"}}}
], "spacing": 77, "bounds": "flush"},
{"vconcat": [
{"hconcat": [
{"width": 438, "height": 290,
 "layer": [
  {"data":{"name":"b"},"transform":[{"filter":"datum.series == 'CTR'"}],"mark":{"type":"line","strokeWidth":2.4,"strokeJoin":"round"},
   "encoding":{"x":{"field":"day","type":"quantitative","scale":{"domain":[0,243],"nice":false,"zero":false},"axis":{"values":[0,61,123,182,243],"labelExpr":"datum.value == 0 ? 'Oct' : datum.value == 61 ? 'Dec' : datum.value == 123 ? 'Feb' : datum.value == 182 ? 'Apr' : 'Jun'","title":null}},
   "y":{"field":"value","type":"quantitative","scale":{"domain":[0,1.2],"nice":false,"zero":false},"axis":{"values":[0,0.2,0.4,0.6,0.8,1,1.2],"format":"~r","title":"Depth (m)","titleX":-62.4}},
   "color":{"field":"series","type":"nominal","scale":{"domain":["CTR","OPER","OBS"],"range":["#000000","#ff0000","#0000ff"]},"legend":null}}},
  {"data":{"name":"b"},"transform":[{"filter":"datum.series == 'OPER'"}],"mark":{"type":"line","strokeWidth":2.4,"strokeJoin":"round"},
   "encoding":{"x":{"field":"day","type":"quantitative","scale":{"domain":[0,243],"nice":false,"zero":false},"axis":null},"y":{"field":"value","type":"quantitative","scale":{"domain":[0,1.2],"nice":false,"zero":false},"axis":null},
   "color":{"field":"series","type":"nominal","scale":{"domain":["CTR","OPER","OBS"],"range":["#000000","#ff0000","#0000ff"]},"legend":null}}},
  {"data":{"name":"b"},"transform":[{"filter":"datum.series == 'OBS'"}],"mark":{"type":"point","shape":"circle","filled":false,"size":225,"strokeWidth":1.5,"opacity":1},
   "encoding":{"x":{"field":"day","type":"quantitative","scale":{"domain":[0,243],"nice":false,"zero":false},"axis":null},"y":{"field":"value","type":"quantitative","scale":{"domain":[0,1.2],"nice":false,"zero":false},"axis":null},
   "color":{"field":"series","type":"nominal","scale":{"domain":["CTR","OPER","OBS"],"range":["#000000","#ff0000","#0000ff"]},"legend":null}}},
  {"data":{"name":"boxes"},"transform":[{"filter":"datum.panel == 'b'"}],"mark":{"type":"rect","color":"#000000"},
   "encoding":{"x":{"field":"d0","type":"quantitative","scale":{"domain":[0,243],"nice":false,"zero":false},"axis":null},"x2":{"field":"d1"},"y":{"field":"v0","type":"quantitative","scale":{"domain":[0,1.2],"nice":false,"zero":false},"axis":null},"y2":{"field":"v1"}}},
  {"data":{"name":"boxes"},"transform":[{"filter":"datum.panel == 'b' && datum.label != ''"}],"mark":{"type":"text","color":"#ffffff","font":"Liberation Sans","fontWeight":"bold","fontSize":30,"align":"center","baseline":"middle"},
   "encoding":{"x":{"field":"dc","type":"quantitative","scale":{"domain":[0,243],"nice":false,"zero":false},"axis":null},"y":{"field":"vc","type":"quantitative","scale":{"domain":[0,1.2],"nice":false,"zero":false},"axis":null},"text":{"field":"label"}}},
  {"data":{"name":"letters"},"transform":[{"filter":"datum.panel == 'b'"}],"mark":{"type":"text","color":"#000000","font":"Liberation Sans","fontSize":23,"align":"left","baseline":"middle"},
   "encoding":{"x":{"field":"day","type":"quantitative","scale":{"domain":[0,243],"nice":false,"zero":false},"axis":{"orient":"top","values":[61,123,182],"labels":false,"title":null}},"y":{"field":"value","type":"quantitative","scale":{"domain":[0,1.2],"nice":false,"zero":false},"axis":{"orient":"right","values":[0.2,0.4,0.6,0.8,1],"labels":false,"title":null}},"text":{"field":"text"}}}
 ],
 "resolve":{"axis":{"x":"independent","y":"independent"}}},
{"width": 438, "height": 290,
 "layer": [
  {"data":{"name":"e"},"transform":[{"filter":"datum.series == 'CTR'"}],"mark":{"type":"line","strokeWidth":2.4,"strokeJoin":"round"},
   "encoding":{"x":{"field":"day","type":"quantitative","scale":{"domain":[0,243],"nice":false,"zero":false},"axis":{"values":[0,61,123,182,243],"labelExpr":"datum.value == 0 ? 'Oct' : datum.value == 61 ? 'Dec' : datum.value == 123 ? 'Feb' : datum.value == 182 ? 'Apr' : 'Jun'","title":null}},
   "y":{"field":"value","type":"quantitative","scale":{"domain":[0,1.2],"nice":false,"zero":false},"axis":{"values":[0,0.2,0.4,0.6,0.8,1,1.2],"format":"~r","title":null}},
   "color":{"field":"series","type":"nominal","scale":{"domain":["CTR","OPER","OBS"],"range":["#000000","#ff0000","#0000ff"]},"legend":null}}},
  {"data":{"name":"e"},"transform":[{"filter":"datum.series == 'OPER'"}],"mark":{"type":"line","strokeWidth":2.4,"strokeJoin":"round"},
   "encoding":{"x":{"field":"day","type":"quantitative","scale":{"domain":[0,243],"nice":false,"zero":false},"axis":null},"y":{"field":"value","type":"quantitative","scale":{"domain":[0,1.2],"nice":false,"zero":false},"axis":null},
   "color":{"field":"series","type":"nominal","scale":{"domain":["CTR","OPER","OBS"],"range":["#000000","#ff0000","#0000ff"]},"legend":null}}},
  {"data":{"name":"e"},"transform":[{"filter":"datum.series == 'OBS'"}],"mark":{"type":"point","shape":"circle","filled":false,"size":225,"strokeWidth":1.5,"opacity":1},
   "encoding":{"x":{"field":"day","type":"quantitative","scale":{"domain":[0,243],"nice":false,"zero":false},"axis":null},"y":{"field":"value","type":"quantitative","scale":{"domain":[0,1.2],"nice":false,"zero":false},"axis":null},
   "color":{"field":"series","type":"nominal","scale":{"domain":["CTR","OPER","OBS"],"range":["#000000","#ff0000","#0000ff"]},"legend":null}}},
  {"data":{"name":"boxes"},"transform":[{"filter":"datum.panel == 'e'"}],"mark":{"type":"rect","color":"#000000"},
   "encoding":{"x":{"field":"d0","type":"quantitative","scale":{"domain":[0,243],"nice":false,"zero":false},"axis":null},"x2":{"field":"d1"},"y":{"field":"v0","type":"quantitative","scale":{"domain":[0,1.2],"nice":false,"zero":false},"axis":null},"y2":{"field":"v1"}}},
  {"data":{"name":"boxes"},"transform":[{"filter":"datum.panel == 'e' && datum.label != ''"}],"mark":{"type":"text","color":"#ffffff","font":"Liberation Sans","fontWeight":"bold","fontSize":30,"align":"center","baseline":"middle"},
   "encoding":{"x":{"field":"dc","type":"quantitative","scale":{"domain":[0,243],"nice":false,"zero":false},"axis":null},"y":{"field":"vc","type":"quantitative","scale":{"domain":[0,1.2],"nice":false,"zero":false},"axis":null},"text":{"field":"label"}}},
  {"data":{"name":"letters"},"transform":[{"filter":"datum.panel == 'e'"}],"mark":{"type":"text","color":"#000000","font":"Liberation Sans","fontSize":23,"align":"left","baseline":"middle"},
   "encoding":{"x":{"field":"day","type":"quantitative","scale":{"domain":[0,243],"nice":false,"zero":false},"axis":{"orient":"top","values":[61,123,182],"labels":false,"title":null}},"y":{"field":"value","type":"quantitative","scale":{"domain":[0,1.2],"nice":false,"zero":false},"axis":{"orient":"right","values":[0.2,0.4,0.6,0.8,1],"labels":false,"title":null}},"text":{"field":"text"}}}
 ],
 "resolve":{"axis":{"x":"independent","y":"independent"}}}
], "spacing": 77, "bounds": "flush"},
{"hconcat": [
{"width": 438, "height": 290,
 "layer": [
  {"data":{"name":"c"},"transform":[{"filter":"datum.series == 'CTR'"}],"mark":{"type":"line","strokeWidth":2.4,"strokeJoin":"round"},
   "encoding":{"x":{"field":"day","type":"quantitative","scale":{"domain":[0,243],"nice":false,"zero":false},"axis":{"values":[0,61,123,182,243],"labelExpr":"datum.value == 0 ? 'Oct' : datum.value == 61 ? 'Dec' : datum.value == 123 ? 'Feb' : datum.value == 182 ? 'Apr' : 'Jun'","title":null}},
   "y":{"field":"value","type":"quantitative","scale":{"domain":[0,500],"nice":false,"zero":false},"axis":{"values":[0,100,200,300,400,500],"format":"~r","title":"Density (kg.m⁻³ )","titleX":-62.4}},
   "color":{"field":"series","type":"nominal","scale":{"domain":["CTR","OPER","OBS"],"range":["#000000","#ff0000","#0000ff"]},"legend":null}}},
  {"data":{"name":"c"},"transform":[{"filter":"datum.series == 'OPER'"}],"mark":{"type":"line","strokeWidth":2.4,"strokeJoin":"round"},
   "encoding":{"x":{"field":"day","type":"quantitative","scale":{"domain":[0,243],"nice":false,"zero":false},"axis":null},"y":{"field":"value","type":"quantitative","scale":{"domain":[0,500],"nice":false,"zero":false},"axis":null},
   "color":{"field":"series","type":"nominal","scale":{"domain":["CTR","OPER","OBS"],"range":["#000000","#ff0000","#0000ff"]},"legend":null}}},
  {"data":{"name":"c"},"transform":[{"filter":"datum.series == 'OBS'"}],"mark":{"type":"point","shape":"circle","filled":false,"size":225,"strokeWidth":1.5,"opacity":1},
   "encoding":{"x":{"field":"day","type":"quantitative","scale":{"domain":[0,243],"nice":false,"zero":false},"axis":null},"y":{"field":"value","type":"quantitative","scale":{"domain":[0,500],"nice":false,"zero":false},"axis":null},
   "color":{"field":"series","type":"nominal","scale":{"domain":["CTR","OPER","OBS"],"range":["#000000","#ff0000","#0000ff"]},"legend":null}}},
  {"data":{"name":"boxes"},"transform":[{"filter":"datum.panel == 'c'"}],"mark":{"type":"rect","color":"#000000"},
   "encoding":{"x":{"field":"d0","type":"quantitative","scale":{"domain":[0,243],"nice":false,"zero":false},"axis":null},"x2":{"field":"d1"},"y":{"field":"v0","type":"quantitative","scale":{"domain":[0,500],"nice":false,"zero":false},"axis":null},"y2":{"field":"v1"}}},
  {"data":{"name":"boxes"},"transform":[{"filter":"datum.panel == 'c' && datum.label != ''"}],"mark":{"type":"text","color":"#ffffff","font":"Liberation Sans","fontWeight":"bold","fontSize":30,"align":"center","baseline":"middle"},
   "encoding":{"x":{"field":"dc","type":"quantitative","scale":{"domain":[0,243],"nice":false,"zero":false},"axis":null},"y":{"field":"vc","type":"quantitative","scale":{"domain":[0,500],"nice":false,"zero":false},"axis":null},"text":{"field":"label"}}},
  {"data":{"name":"letters"},"transform":[{"filter":"datum.panel == 'c'"}],"mark":{"type":"text","color":"#000000","font":"Liberation Sans","fontSize":23,"align":"left","baseline":"middle"},
   "encoding":{"x":{"field":"day","type":"quantitative","scale":{"domain":[0,243],"nice":false,"zero":false},"axis":{"orient":"top","values":[61,123,182],"labels":false,"title":null}},"y":{"field":"value","type":"quantitative","scale":{"domain":[0,500],"nice":false,"zero":false},"axis":{"orient":"right","values":[100,200,300,400],"labels":false,"title":null}},"text":{"field":"text"}}}
 ],
 "resolve":{"axis":{"x":"independent","y":"independent"}}},
{"width": 438, "height": 290,
 "layer": [
  {"data":{"name":"f"},"transform":[{"filter":"datum.series == 'CTR'"}],"mark":{"type":"line","strokeWidth":2.4,"strokeJoin":"round"},
   "encoding":{"x":{"field":"day","type":"quantitative","scale":{"domain":[0,243],"nice":false,"zero":false},"axis":{"values":[0,61,123,182,243],"labelExpr":"datum.value == 0 ? 'Oct' : datum.value == 61 ? 'Dec' : datum.value == 123 ? 'Feb' : datum.value == 182 ? 'Apr' : 'Jun'","title":null}},
   "y":{"field":"value","type":"quantitative","scale":{"domain":[0,500],"nice":false,"zero":false},"axis":{"values":[0,100,200,300,400,500],"format":"~r","title":null}},
   "color":{"field":"series","type":"nominal","scale":{"domain":["CTR","OPER","OBS"],"range":["#000000","#ff0000","#0000ff"]},"legend":null}}},
  {"data":{"name":"f"},"transform":[{"filter":"datum.series == 'OPER'"}],"mark":{"type":"line","strokeWidth":2.4,"strokeJoin":"round"},
   "encoding":{"x":{"field":"day","type":"quantitative","scale":{"domain":[0,243],"nice":false,"zero":false},"axis":null},"y":{"field":"value","type":"quantitative","scale":{"domain":[0,500],"nice":false,"zero":false},"axis":null},
   "color":{"field":"series","type":"nominal","scale":{"domain":["CTR","OPER","OBS"],"range":["#000000","#ff0000","#0000ff"]},"legend":null}}},
  {"data":{"name":"f"},"transform":[{"filter":"datum.series == 'OBS'"}],"mark":{"type":"point","shape":"circle","filled":false,"size":225,"strokeWidth":1.5,"opacity":1},
   "encoding":{"x":{"field":"day","type":"quantitative","scale":{"domain":[0,243],"nice":false,"zero":false},"axis":null},"y":{"field":"value","type":"quantitative","scale":{"domain":[0,500],"nice":false,"zero":false},"axis":null},
   "color":{"field":"series","type":"nominal","scale":{"domain":["CTR","OPER","OBS"],"range":["#000000","#ff0000","#0000ff"]},"legend":null}}},
  {"data":{"name":"boxes"},"transform":[{"filter":"datum.panel == 'f'"}],"mark":{"type":"rect","color":"#000000"},
   "encoding":{"x":{"field":"d0","type":"quantitative","scale":{"domain":[0,243],"nice":false,"zero":false},"axis":null},"x2":{"field":"d1"},"y":{"field":"v0","type":"quantitative","scale":{"domain":[0,500],"nice":false,"zero":false},"axis":null},"y2":{"field":"v1"}}},
  {"data":{"name":"boxes"},"transform":[{"filter":"datum.panel == 'f' && datum.label != ''"}],"mark":{"type":"text","color":"#ffffff","font":"Liberation Sans","fontWeight":"bold","fontSize":30,"align":"center","baseline":"middle"},
   "encoding":{"x":{"field":"dc","type":"quantitative","scale":{"domain":[0,243],"nice":false,"zero":false},"axis":null},"y":{"field":"vc","type":"quantitative","scale":{"domain":[0,500],"nice":false,"zero":false},"axis":null},"text":{"field":"label"}}},
  {"data":{"name":"letters"},"transform":[{"filter":"datum.panel == 'f'"}],"mark":{"type":"text","color":"#000000","font":"Liberation Sans","fontSize":23,"align":"left","baseline":"middle"},
   "encoding":{"x":{"field":"day","type":"quantitative","scale":{"domain":[0,243],"nice":false,"zero":false},"axis":{"orient":"top","values":[61,123,182],"labels":false,"title":null}},"y":{"field":"value","type":"quantitative","scale":{"domain":[0,500],"nice":false,"zero":false},"axis":{"orient":"right","values":[100,200,300,400],"labels":false,"title":null}},"text":{"field":"text"}}}
 ],
 "resolve":{"axis":{"x":"independent","y":"independent"}}}
], "spacing": 77, "bounds": "flush"}
], "spacing": 9.2, "bounds": "full"}
],
"config": {
 "font": "Liberation Sans",
 "view": {"stroke": "#262626", "strokeWidth": 1.2},
 "axis": {"domain": false, "grid": false, "ticks": true, "tickSize": -5, "tickColor": "#262626", "tickWidth": 1, "labelFont": "Liberation Sans", "labelFontSize": 23, "labelColor": "#000000", "labelFlush": false, "labelOverlap": false, "titleFont": "Liberation Sans", "titleFontSize": 27, "titleFontWeight": "normal", "titleColor": "#000000"},
 "axisX": {"labelPadding": 19.5},
 "axisY": {"labelPadding": 15}
}
}
